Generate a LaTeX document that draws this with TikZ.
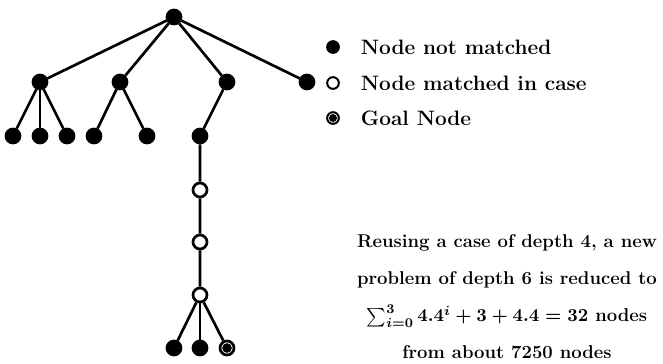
\documentclass[tikz,border=0pt]{standalone}
\usepackage{amsmath}
\usepackage{amssymb}
\usepackage{tikz}
\usetikzlibrary{positioning}

\begin{document}
\begin{tikzpicture}[
  x=0.6pt, y=-0.6pt,
  nd/.style={circle, draw, fill=black, minimum size=8.4pt, inner sep=0pt},
  hit/.style={nd, fill=white},
  goal/.style={nd, fill=white, path picture={\fill[black] (path picture bounding box.center) circle (2.9pt);}},
  key/.style={circle, draw, fill=black, minimum size=7pt, inner sep=0pt, line width=1.2pt},
  txt/.style={font=\fontsize{12.5}{22.2}\selectfont\bfseries\boldmath},
  note/.style={font=\fontsize{11.1}{22.2}\selectfont\bfseries\boldmath},
  line width=1.6pt
]
\useasboundingbox (0,0) rectangle (663,363);
% tree
\node[nd] (root) at (174,17) {};
\node[nd] (a) at (40,82)  {};
\node[nd] (b) at (120,82) {};
\node[nd] (c) at (227,82) {};
\node[nd] (d) at (307,82) {};
\node[nd] (a1) at (13,136) {};
\node[nd] (a2) at (40,136) {};
\node[nd] (a3) at (67,136) {};
\node[nd] (b1) at (94,136) {};
\node[nd] (b2) at (147,136) {};
\node[nd] (c1) at (200,136) {};
\node[hit] (m1) at (200,190) {};
\node[hit] (m2) at (200,242) {};
\node[hit] (m3) at (200,295) {};
\node[nd] (e1) at (174,348) {};
\node[nd] (e2) at (200,348) {};
\node[goal] (e3) at (227,348) {};

\foreach \k in {a,b,c,d} \draw (root) -- (\k);
\foreach \k in {a1,a2,a3} \draw (a) -- (\k);
\foreach \k in {b1,b2} \draw (b) -- (\k);
\draw (c) -- (c1) -- (m1) -- (m2) -- (m3);
\foreach \k in {e1,e2,e3} \draw (m3) -- (\k);

% legend
\node[key] (k1) at (333,47) {};
\node[key, fill=white] (k2) at (333,83) {};
\node[key, fill=white, path picture={\fill[black] (path picture bounding box.center) circle (2.4pt);}] (k3) at (333,118) {};
\node[txt, anchor=west] (l1) at (354,47) {Node not matched};
\node[txt, anchor=west] (l2) at (354,83) {Node matched in case};
\node[txt, anchor=west] (l3) at (354,118) {Goal Node};

% note
\node[note, align=center, anchor=north] (txtnote) at (507,228)
  {Reusing a case of depth 4, a new\\
   problem of depth 6 is reduced to\\
   $\sum_{i=0}^{3} 4.4^{i} + 3 + 4.4 = 32$ nodes\\
   from about 7250 nodes};
\end{tikzpicture}
\end{document}
